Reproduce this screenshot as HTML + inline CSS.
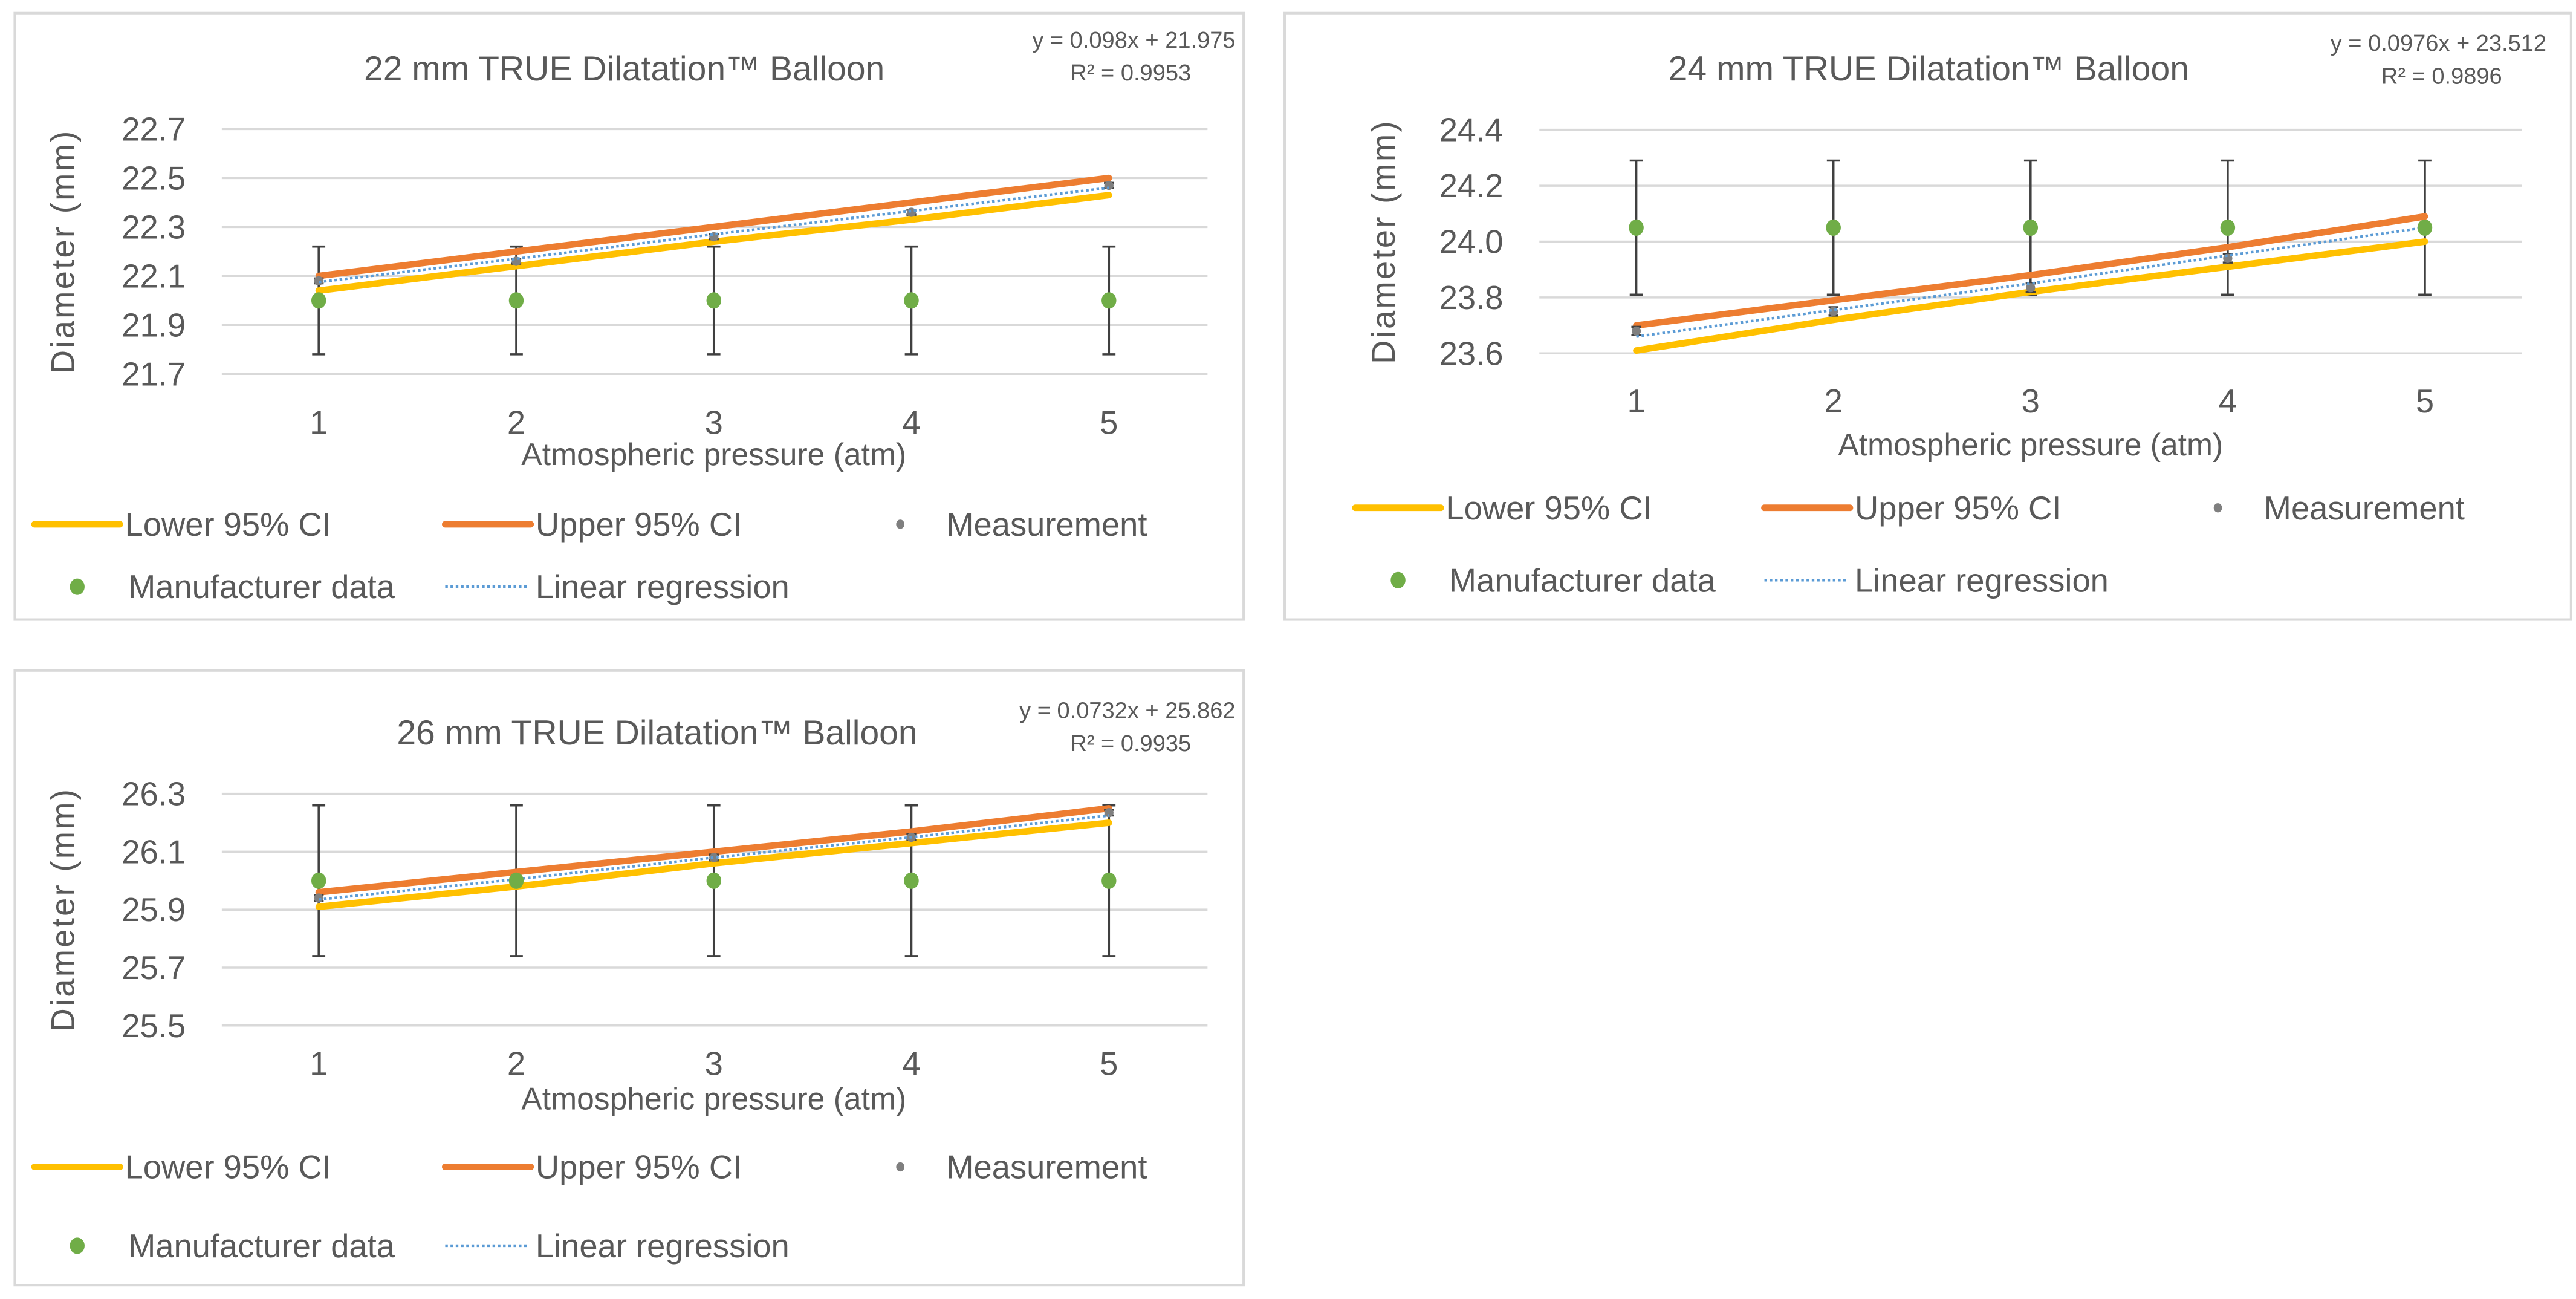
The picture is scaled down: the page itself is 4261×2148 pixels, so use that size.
<!DOCTYPE html>
<html><head><meta charset="utf-8"><style>
html,body{margin:0;padding:0;background:#fff;}
svg{display:block;}
text{font-family:"Liberation Sans",sans-serif;fill:#595959;}
</style></head><body>
<svg id="root" width="4261" height="2148" viewBox="0 0 1568 790.4" preserveAspectRatio="none" xmlns="http://www.w3.org/2000/svg"></svg>
<script>
const xCats=[1,2,3,4,5];
const c1Title="22 mm TRUE Dilatation™ Balloon";
const c1Eq=["y = 0.098x + 21.975","R² = 0.9953"];
const c1Ticks=[21.7,21.9,22.1,22.3,22.5,22.7];
const c1Lower=[22.04,22.14,22.24,22.33,22.43];
const c1Upper=[22.10,22.20,22.30,22.40,22.50];
const c1Meas=[22.08,22.16,22.26,22.36,22.47];
const c1MeasErr=[0.01,0.01,0.01,0.01,0.01];
const c1Manu=[22.0,22.0,22.0,22.0,22.0];
const c1ManuErr=[0.22,0.22,0.22,0.22,0.22];
const c1Reg=[22.075,22.17,22.27,22.365,22.46];

const c2Title="24 mm TRUE Dilatation™ Balloon";
const c2Eq=["y = 0.0976x + 23.512","R² = 0.9896"];
const c2Ticks=[23.6,23.8,24.0,24.2,24.4];
const c2Lower=[23.61,23.72,23.82,23.91,24.00];
const c2Upper=[23.70,23.79,23.88,23.98,24.09];
const c2Meas=[23.68,23.75,23.835,23.94,24.05];
const c2MeasErr=[0.015,0.015,0.015,0.015,0.015];
const c2Manu=[24.05,24.05,24.05,24.05,24.05];
const c2ManuErr=[0.24,0.24,0.24,0.24,0.24];
const c2Reg=[23.66,23.755,23.85,23.95,24.05];

const c3Title="26 mm TRUE Dilatation™ Balloon";
const c3Eq=["y = 0.0732x + 25.862","R² = 0.9935"];
const c3Ticks=[25.5,25.7,25.9,26.1,26.3];
const c3Lower=[25.91,25.98,26.06,26.13,26.20];
const c3Upper=[25.96,26.03,26.10,26.17,26.25];
const c3Meas=[25.94,26.01,26.08,26.15,26.235];
const c3MeasErr=[0.01,0.01,0.01,0.01,0.01];
const c3Manu=[26.0,26.0,26.0,26.0,26.0];
const c3ManuErr=[0.26,0.26,0.26,0.26,0.26];
const c3Reg=[25.935,26.005,26.08,26.15,26.225];

const NS="http://www.w3.org/2000/svg";
const root=document.getElementById('root');
function mk(tag,attrs,parent,txt){const e=document.createElementNS(NS,tag);for(const k in attrs)e.setAttribute(k,attrs[k]);if(txt!==undefined)e.textContent=txt;parent.appendChild(e);return e;}

function chart(cfg,d){
  const g=mk('g',{},root);
  
  
  const box=mk('rect',{x:cfg.bx,y:cfg.by,width:cfg.bw,height:cfg.bh,fill:'#fff',stroke:'#d9d9d9','stroke-width':1.5},g);
  
  
  const t=mk('text',{x:cfg.tx,y:cfg.ty,'font-size':21,'text-anchor':'middle'},g,d.title);
  
  
  const e1=mk('text',{x:cfg.ex,y:cfg.ey,'font-size':14,'text-anchor':'end'},g,d.eq[0]);
  
  
  const e2=mk('text',{x:cfg.ex-27,y:cfg.ey+20,'font-size':14,'text-anchor':'end'},g,d.eq[1]);
  
  
  const t0=d.ticks[0],t1=d.ticks[d.ticks.length-1];
  const Y=v=>cfg.yb+(v-t0)/(t1-t0)*(cfg.yt-cfg.yb);
  const X=v=>cfg.x1+(v-1)/4*(cfg.x5-cfg.x1);
  d.ticks.forEach(v=>{
    const l=mk('line',{x1:cfg.gx0,x2:cfg.gx1,y1:Y(v),y2:Y(v),stroke:'#d9d9d9','stroke-width':1.3},g);
    
    
    const tl=mk('text',{x:cfg.gx0-22,y:Y(v)+7,'font-size':20,'text-anchor':'end'},g,v.toFixed(1));
    
    
  });
  xCats.forEach(c=>{
    const tl=mk('text',{x:X(c),y:cfg.xly,'font-size':20,'text-anchor':'middle'},g,String(c));
    
    
  });
  const xt=mk('text',{x:(cfg.x1+cfg.x5)/2,y:cfg.xty,'font-size':19,'text-anchor':'middle'},g,'Atmospheric pressure (atm)');
  
  
  const yt=mk('text',{x:0,y:0,'font-size':20,'text-anchor':'middle','letter-spacing':1.2,transform:`translate(${cfg.ytx},${(cfg.yt+cfg.yb)/2}) rotate(-90)`},g,'Diameter (mm)');
  
  
  const pts=a=>a.map((v,i)=>X(xCats[i])+','+Y(v)).join(' ');
  d.manu.forEach((v,i)=>{
    const x=X(xCats[i]);const lo=Y(v-d.manuErr[i]),hi=Y(v+d.manuErr[i]);
    const eb=mk('path',{d:`M${x},${lo}V${hi}M${x-4},${lo}H${x+4}M${x-4},${hi}H${x+4}`,stroke:'#404040','stroke-width':1.3,fill:'none'},g);
    
    
  });
  const lo=mk('polyline',{points:pts(d.lower),fill:'none',stroke:'#ffc000','stroke-width':4,'stroke-linecap':'round'},g);
  
  
  const up=mk('polyline',{points:pts(d.upper),fill:'none',stroke:'#ed7d31','stroke-width':4,'stroke-linecap':'round'},g);
  
  
  d.meas.forEach((v,i)=>{
    const x=X(xCats[i]);const a=Y(v-d.measErr[i]),b=Y(v+d.measErr[i]);
    const eb=mk('path',{d:`M${x},${a}V${b}M${x-3},${a}H${x+3}M${x-3},${b}H${x+3}`,stroke:'#404040','stroke-width':1.3,fill:'none'},g);
    
    
    const m=mk('circle',{cx:x,cy:Y(v),r:2.8,fill:'#7f7f7f'},g);
    
    
  });
  const rg=mk('polyline',{points:pts(d.reg),fill:'none',stroke:'#5b9bd5','stroke-width':1.6,'stroke-dasharray':'1.6 1.6'},g);
  
  
  d.manu.forEach((v,i)=>{
    const m=mk('ellipse',{cx:X(xCats[i]),cy:Y(v),rx:4.5,ry:5,fill:'#70ad47'},g);
    
    
  });
  const L=cfg.leg;
  const items=[
    {n:'legend-lower-ci',type:'line',c:'#ffc000',lx:L.c1,y:L.r1,txt:'Lower 95% CI',tx:L.c1+55},
    {n:'legend-upper-ci',type:'line',c:'#ed7d31',lx:L.c2,y:L.r1,txt:'Upper 95% CI',tx:L.c2+55},
    {n:'legend-measurement',type:'dot',c:'#7f7f7f',lx:L.c3,y:L.r1,txt:'Measurement',tx:L.c3+28,r:2.8},
    {n:'legend-manufacturer',type:'dot',c:'#70ad47',lx:L.c1+26,y:L.r2,txt:'Manufacturer data',tx:L.c1+57,r:5},
    {n:'legend-linear-regression',type:'dash',c:'#5b9bd5',lx:L.c2,y:L.r2,txt:'Linear regression',tx:L.c2+55}
  ];
  items.forEach(it=>{
    const lg=mk('g',{},g);
    
    
    if(it.type==='line')mk('line',{x1:it.lx,x2:it.lx+52,y1:it.y,y2:it.y,stroke:it.c,'stroke-width':4,'stroke-linecap':'round'},lg);
    else if(it.type==='dash')mk('line',{x1:it.lx,x2:it.lx+50,y1:it.y,y2:it.y,stroke:it.c,'stroke-width':1.6,'stroke-dasharray':'1.6 1.6'},lg);
    else mk('ellipse',{cx:it.lx,cy:it.y,rx:it.r*0.9,ry:it.r,fill:it.c},lg);
    mk('text',{x:it.tx,y:it.y+7,'font-size':20},lg,it.txt);
  });
}
chart({id:'chart-22mm',bx:9,by:8,bw:748,bh:369,tx:380,ty:49,ex:752,ey:29,gx0:135,gx1:735,yt:78.5,yb:227.5,x1:194,x5:675,xly:264,xty:283,ytx:45,leg:{c1:21,c2:271,c3:548,r1:319,r2:357}},
 {title:c1Title,eq:c1Eq,ticks:c1Ticks,lower:c1Lower,upper:c1Upper,meas:c1Meas,measErr:c1MeasErr,manu:c1Manu,manuErr:c1ManuErr,reg:c1Reg});
chart({id:'chart-24mm',bx:782,by:8,bw:783,bh:369,tx:1174,ty:49,ex:1550,ey:31,gx0:937,gx1:1535,yt:79,yb:215,x1:996,x5:1476,xly:251,xty:277,ytx:849,leg:{c1:825,c2:1074,c3:1350,r1:309,r2:353}},
 {title:c2Title,eq:c2Eq,ticks:c2Ticks,lower:c2Lower,upper:c2Upper,meas:c2Meas,measErr:c2MeasErr,manu:c2Manu,manuErr:c2ManuErr,reg:c2Reg});
chart({id:'chart-26mm',bx:9,by:408,bw:748,bh:374,tx:400,ty:453,ex:752,ey:437,gx0:135,gx1:735,yt:483,yb:624,x1:194,x5:675,xly:654,xty:675,ytx:45,leg:{c1:21,c2:271,c3:548,r1:710,r2:758}},
 {title:c3Title,eq:c3Eq,ticks:c3Ticks,lower:c3Lower,upper:c3Upper,meas:c3Meas,measErr:c3MeasErr,manu:c3Manu,manuErr:c3ManuErr,reg:c3Reg});
</script>
</body></html>
